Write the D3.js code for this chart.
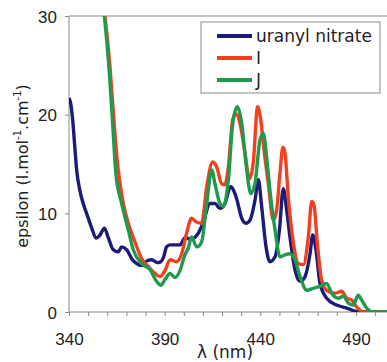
<!DOCTYPE html>
<html>
<head>
<meta charset="utf-8">
<script src="https://cdn.jsdelivr.net/npm/d3@7"></script>
<style>
  body { margin: 0; background: #fff; }
  svg { display: block; font-family: 'DejaVu Sans', Verdana, sans-serif; }
  .axis text { font-size: 17px; fill: #222; }
  .axis path, .axis line { stroke: #8a8a8a; }
</style>
</head>
<body>
<svg width="387" height="362"></svg>
<script>
'use strict';

// wavelength (nm), epsilon
const uranylNm  = [340, 341, 342, 343, 344, 345.5, 347.1, 349.2, 351.9, 354.1, 356.2, 358.5, 360.6, 363.2, 365.8, 367.5, 370.2, 372.8, 375.4, 378, 380.9, 383.2, 386.2, 388, 389.5, 391, 392.8, 398, 400.6, 404, 407.6, 410.2, 413.7, 416.3, 418.9, 421.5, 424.5, 427.3, 430.3, 432.5, 434.6, 437.2, 439, 440.7, 443, 445, 447.7, 450, 452, 453.8, 455.5, 458.1, 460.8, 463.4, 466, 467.4, 469.1, 471.2, 474.7, 479.9, 485.2, 490.4, 510]
const uranylEps = [21.7, 21.0, 19.3, 16.8, 14.4, 12.5, 11.2, 10.0, 8.5, 7.5, 7.8, 8.5, 7.5, 6.3, 6.1, 6.6, 6.3, 5.4, 4.9, 4.7, 5.2, 5.3, 5.0, 5.1, 5.6, 6.6, 6.8, 6.8, 7.5, 7.4, 8.0, 9.1, 11.0, 11.0, 10.5, 11.0, 12.7, 11.7, 9.5, 9.0, 9.3, 11.3, 13.4, 10.7, 6.6, 5.1, 5.6, 8.3, 12.5, 10.3, 7.6, 4.3, 3.1, 3.6, 5.9, 7.8, 6.3, 2.9, 1.4, 0.7, 0.4, 0.05, 0]

const iNm  = [356, 358.8, 361.4, 364, 365.5, 368.4, 371, 374.5, 378, 381.5, 385, 387.6, 390.2, 392.8, 396.3, 398.9, 401.5, 404.1, 406.8, 409.3, 412, 415.1, 417.2, 419.8, 421.5, 423.3, 425.6, 427.3, 429.4, 432, 434.3, 436.3, 438.6, 440.2, 441.6, 444.2, 446.8, 448.5, 450.3, 451.8, 452.9, 454.6, 457.3, 459.9, 462.5, 465.1, 466.9, 468.1, 469.8, 472.1, 474.7, 479, 482.5, 485.2, 487.8, 490.4, 493.8, 510]
const iEps = [34, 30, 24.9, 18.1, 14.8, 11.0, 9.0, 7.1, 5.4, 4.6, 3.9, 3.6, 4.2, 5.3, 5.1, 5.9, 8.0, 9.5, 9.1, 9.0, 12.7, 15.2, 14.7, 13.0, 12.9, 14.7, 19.5, 20.1, 19.1, 16.1, 13.5, 15.1, 20.8, 19.5, 17.0, 13.0, 9.3, 10.3, 14.1, 16.7, 16.1, 11.7, 7.0, 4.9, 4.8, 7.6, 11.2, 10.8, 7.0, 3.2, 2.2, 1.9, 2.1, 1.4, 1.2, 0.5, 0, 0]

const jNm  = [356, 358.5, 361, 363, 364.5, 367.5, 371, 373.6, 378, 382.3, 385.8, 388, 390.2, 392.8, 395.4, 398, 400.6, 402.4, 404.1, 406.8, 409.3, 412, 414.6, 416.3, 418.9, 420.7, 423.3, 425.6, 428, 430.3, 432.5, 435, 437.2, 439.8, 441.6, 443.3, 445, 447.7, 450.3, 452.9, 455.5, 458.1, 460.8, 464.3, 467.7, 471.2, 474.7, 477.3, 480.8, 483.4, 486, 488.6, 491.2, 493, 495.6, 499, 510]
const jEps = [34, 30, 24.5, 18.5, 14, 11.0, 8.3, 6.3, 4.9, 4.3, 3.1, 2.7, 3.3, 3.9, 3.5, 4.2, 5.8, 6.5, 7.6, 6.6, 7.1, 11.0, 14.4, 13.0, 11.0, 10.7, 13.4, 19.1, 20.8, 19.1, 15.1, 12.0, 13.0, 17.4, 18.1, 15.7, 12.4, 8.3, 5.6, 5.8, 5.9, 5.3, 3.6, 2.2, 2.4, 2.6, 2.9, 1.9, 1.4, 1.6, 0.9, 0.7, 1.7, 1.2, 0.4, 0, 0]

const seriesNames = ['uranyl nitrate', 'I', 'J']
const seriesColors = ['#1c1c78', '#f2401e', '#1f9a4c']
const xTicks = [340, 350, 360, 370, 380, 390, 400, 410, 420, 430, 440, 450, 460, 470, 480, 490, 500, 510]
const xLabels = [340, 390, 440, 490]
const yTicks = [0, 10, 20, 30]

const svg = d3.select('svg')
const margin = {top: 16, left: 69}
const plotH = 296

const x = d3.scaleLinear().domain([340, 510]).range([margin.left, margin.left + 170 * 1.913])
const y = d3.scaleLinear().domain([0, 30]).range([margin.top + plotH, margin.top])

svg.append('clipPath').attr('id', 'clip')
  .append('rect')
  .attr('x', margin.left).attr('y', margin.top)
  .attr('width', 400).attr('height', plotH)

// top border of plot area
svg.append('line')
  .attr('x1', margin.left).attr('x2', 387)
  .attr('y1', y(30)).attr('y2', y(30))
  .attr('stroke', '#8a8a8a')

const xAxis = d3.axisBottom(x)
  .tickValues(xTicks)
  .tickSize(4)
  .tickFormat((d) => xLabels.includes(d) ? d : '')
const gx = svg.append('g').attr('class', 'axis')
  .attr('transform', 'translate(0,' + y(0) + ')')
  .call(xAxis)
gx.select('.domain').attr('d', 'M' + margin.left + ',0H400')
gx.selectAll('text').attr('y', 33).attr('dy', 0)

const yAxis = d3.axisLeft(y).tickValues(yTicks).tickSize(4).tickPadding(8)
const gy = svg.append('g').attr('class', 'axis')
  .attr('transform', 'translate(' + margin.left + ',0)')
  .call(yAxis)
gy.select('.domain').attr('d', 'M0,' + y(0) + 'V' + y(30))
gy.selectAll('text').attr('dy', '0.36em')

const line = d3.line()
  .x((d) => x(d[0]))
  .y((d) => y(d[1]))
  .curve(d3.curveMonotoneX)

const series = [
  d3.zip(uranylNm, uranylEps),
  d3.zip(iNm, iEps),
  d3.zip(jNm, jEps)
]

const plot = svg.append('g').attr('clip-path', 'url(#clip)')
series.forEach((s, i) => {
  plot.append('path')
    .attr('d', line(s))
    .attr('fill', 'none')
    .attr('stroke', seriesColors[i])
    .attr('stroke-width', 3.4)
    .attr('stroke-linejoin', 'round')
})

// axis titles
const ylab = svg.append('text')
  .attr('transform', 'translate(28,' + 166 + ') rotate(-90)')
  .attr('text-anchor', 'middle')
  .attr('font-size', 16)
  .attr('fill', '#222')
ylab.append('tspan').text('epsilon (l.mol')
ylab.append('tspan').attr('font-size', 10).attr('dy', -7).text('-1')
ylab.append('tspan').attr('dy', 7).text('.cm')
ylab.append('tspan').attr('font-size', 10).attr('dy', -7).text('-1')
ylab.append('tspan').attr('dy', 7).text(')')

svg.append('text')
  .attr('x', 225).attr('y', 358)
  .attr('text-anchor', 'middle')
  .attr('font-size', 17)
  .attr('fill', '#222')
  .text('λ (nm)')

// legend
const legend = svg.append('g').attr('transform', 'translate(201,22)')
legend.append('rect')
  .attr('width', 179).attr('height', 71)
  .attr('fill', '#fff').attr('stroke', '#8a8a8a')
seriesNames.forEach((name, i) => {
  const row = legend.append('g').attr('transform', 'translate(0,' + (14 + i * 22) + ')')
  row.append('line')
    .attr('x1', 16).attr('x2', 51)
    .attr('stroke', seriesColors[i]).attr('stroke-width', 4)
  row.append('text')
    .attr('x', 55).attr('dy', '0.35em')
    .attr('font-size', 17).attr('fill', '#222')
    .text(name)
})
</script>
</body>
</html>
